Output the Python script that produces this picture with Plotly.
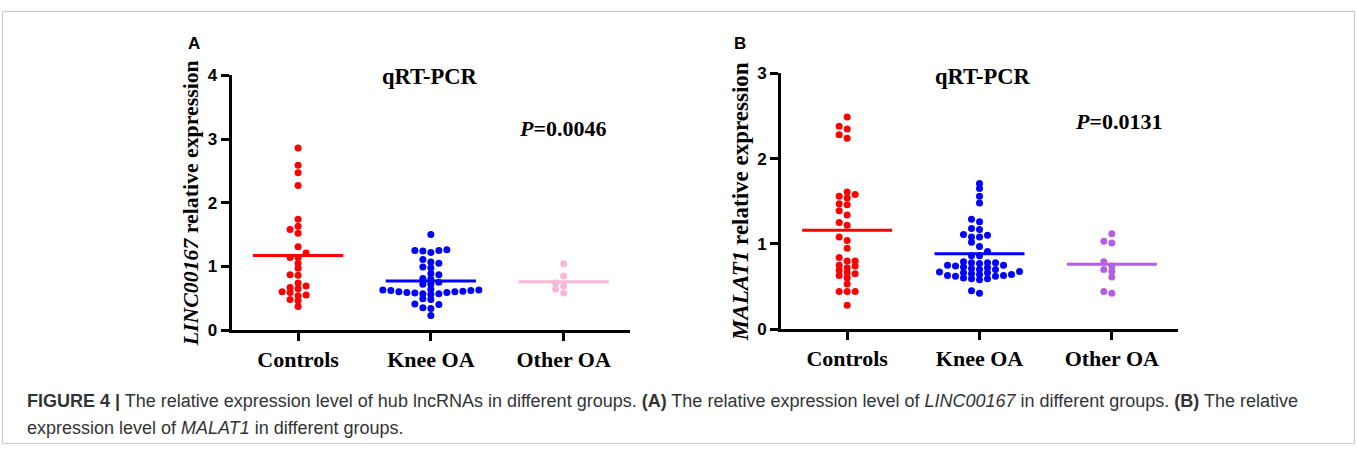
import numpy as np
import plotly.graph_objects as go

# ---------------- data ----------------
categories = ["Controls", "Knee OA", "Other OA"]

a_controls = [2.86, 2.59, 2.47, 2.27, 1.74, 1.63, 1.58, 1.52, 1.31, 1.21, 1.14, 1.14,
              1.05, 0.97, 0.87, 0.86, 0.74, 0.69, 0.67, 0.65, 0.60, 0.59, 0.55, 0.54,
              0.48, 0.46, 0.37]
a_knee = [1.50, 1.26, 1.25, 1.25, 1.24, 1.22, 1.11, 1.07, 1.05, 0.99, 0.98, 0.89, 0.87,
          0.81, 0.80, 0.75, 0.72, 0.72, 0.64, 0.63, 0.63, 0.62, 0.62, 0.61, 0.60, 0.60,
          0.59, 0.59, 0.58, 0.57, 0.57, 0.56, 0.49, 0.48, 0.41, 0.40, 0.35, 0.34, 0.23]
a_other = [1.04, 0.85, 0.74, 0.69, 0.64, 0.58]
a_means = [1.17, 0.77, 0.76]

b_controls = [2.49, 2.38, 2.35, 2.28, 2.24, 1.61, 1.58, 1.56, 1.54, 1.47, 1.46, 1.39,
              1.34, 1.25, 1.22, 1.08, 1.04, 0.95, 0.84, 0.80, 0.80, 0.75, 0.74, 0.72,
              0.69, 0.66, 0.65, 0.63, 0.60, 0.53, 0.44, 0.44, 0.44, 0.28]
b_knee = [1.71, 1.65, 1.56, 1.48, 1.29, 1.26, 1.18, 1.17, 1.11, 1.10, 1.08, 1.08, 1.02,
          0.97, 0.91, 0.86, 0.86, 0.79, 0.78, 0.78, 0.78, 0.77, 0.75, 0.75, 0.74, 0.73,
          0.72, 0.71, 0.70, 0.70, 0.675, 0.67, 0.66, 0.66, 0.65, 0.64, 0.64, 0.63, 0.63,
          0.62, 0.62, 0.60, 0.59, 0.59, 0.58, 0.45, 0.42]
b_other = [1.12, 1.03, 1.01, 0.79, 0.74, 0.70, 0.68, 0.61, 0.44, 0.42]
b_means = [1.16, 0.885, 0.76]

a_pvalue = "0.0046"
b_pvalue = "0.0131"
a_gene = "LINC00167"
b_gene = "MALAT1"

# ---------------- style ----------------
W, H = 1357, 456
col_a = ["#ff0000", "#0000ff", "#f9b8d8"]
col_b = ["#ff0000", "#0000ff", "#b45fe0"]
SERIF = "Liberation Serif"
SANS = "Liberation Sans"


def swarm(values, px_per_unit, cat_px, slot_px=8.0, thresh_px=5.0):
    vals = np.asarray(values, dtype=float)
    order = np.argsort(vals)
    placed = {}
    offs = np.zeros(len(vals))
    cands = [0]
    for k in range(1, 30):
        cands += [-k, k]
    for i in order:
        y = vals[i] * px_per_unit
        for c in cands:
            if all(abs(y - yy) >= thresh_px for yy in placed.get(c, [])):
                break
        placed.setdefault(c, []).append(y)
        offs[i] = c * slot_px / cat_px
    return offs


def px(x, y):
    return x / W, 1 - y / H


fig = go.Figure()

panels = [
    dict(groups=[a_controls, a_knee, a_other], means=a_means, cols=col_a,
         xa="x", ya="y", xpix=(231.7, 630.0), ypix=(69.3, 335.0), ymax=4),
    dict(groups=[b_controls, b_knee, b_other], means=b_means, cols=col_b,
         xa="x2", ya="y2", xpix=(781.0, 1178.0), ypix=(67.3, 334.0), ymax=3),
]

for p in panels:
    ppu = (p["ypix"][1] - p["ypix"][0]) / p["ymax"]
    cat_px = (p["xpix"][1] - p["xpix"][0]) / 3.0
    for gi, vals in enumerate(p["groups"]):
        offs = swarm(vals, ppu, cat_px)
        fig.add_trace(go.Scatter(
            x=gi + offs, y=vals, mode="markers", xaxis=p["xa"], yaxis=p["ya"],
            marker=dict(size=7, color=p["cols"][gi], line=dict(width=0)),
            showlegend=False, hoverinfo="skip", cliponaxis=False))
        m = p["means"][gi]
        fig.add_trace(go.Scatter(
            x=[gi - 0.34, gi + 0.34], y=[m, m], mode="lines", xaxis=p["xa"], yaxis=p["ya"],
            line=dict(color=p["cols"][gi], width=3),
            showlegend=False, hoverinfo="skip", cliponaxis=False))

axis_common = dict(showline=True, linewidth=3, linecolor="black", mirror=False,
                   ticks="outside", ticklen=8, tickwidth=3, tickcolor="black",
                   showgrid=False, zeroline=False, fixedrange=True)

layout_axes = {}
for idx, p in enumerate(panels):
    sfx = "" if idx == 0 else "2"
    x0, x1 = p["xpix"]
    yt, yb = p["ypix"]
    layout_axes["xaxis" + sfx] = dict(
        axis_common, domain=[x0 / W, x1 / W], range=[-0.5, 2.5],
        tickvals=[0, 1, 2], ticktext=categories, anchor="y" + sfx,
        tickfont=dict(family=SERIF, size=22, color="black", weight="bold"))
    layout_axes["yaxis" + sfx] = dict(
        axis_common, domain=[1 - yb / H, 1 - yt / H], range=[0, p["ymax"]],
        tickvals=list(range(0, p["ymax"] + 1)), anchor="x" + sfx,
        tickfont=dict(family=SANS, size=17, color="black", weight="bold"))

fig.update_layout(
    width=W, height=H, margin=dict(l=0, r=0, t=0, b=0),
    paper_bgcolor="white", plot_bgcolor="white", **layout_axes)

ann = []


def add_text(text, x, y, font, xanchor="center", **kw):
    ax_, ay_ = px(x, y)
    ann.append(dict(x=ax_, y=ay_, xref="paper", yref="paper", text=text, showarrow=False,
                    xanchor=xanchor, yanchor="middle", font=font, **kw))


# panel letters
add_text("A", 194, 36, dict(family=SANS, size=17, color="black", weight="bold"))
add_text("B", 740, 36, dict(family=SANS, size=17, color="black", weight="bold"))
# y titles
for gene, (x, y), fs in [(a_gene, (190.7, 203), 21.8), (b_gene, (740.7, 200.8), 23)]:
    add_text("<i>%s</i> relative expression" % gene, x, y,
             dict(family=SERIF, size=fs, color="black", weight="bold"), textangle=-90)
# qRT-PCR
for (x, y) in [(429.2, 70), (982, 70)]:
    add_text("qRT-PCR", x, y, dict(family=SERIF, size=22.5, color="black", weight="bold"))
# P values
for pv, (x, y) in [(a_pvalue, (563, 125)), (b_pvalue, (1119, 117))]:
    add_text("<i>P</i>=" + pv, x, y, dict(family=SERIF, size=22, color="black", weight="bold"))
# caption
cap1 = ("<b>FIGURE 4 |</b> The relative expression level of hub lncRNAs in different groups. "
        "<b>(A)</b> The relative expression level of <i>%s</i> in different groups. "
        "<b>(B)</b> The relative" % a_gene)
cap2 = "expression level of <i>%s</i> in different groups." % b_gene
for txt, y in [(cap1, 409), (cap2, 437)]:
    add_text(txt, 25, y, dict(family=SANS, size=18, color="#333333"), xanchor="left")

fig.update_layout(annotations=ann)

# frame
fig.add_shape(type="rect", xref="paper", yref="paper", x0=2.5 / W, x1=1 - 2.5 / W,
              y0=2.5 / H, y1=1 - 2.5 / H, line=dict(color="#c8c8c8", width=1))

fig.write_html("out.html", config={"displayModeBar": False},
               post_script="document.body.style.margin='0';document.body.style.overflow='hidden';")
